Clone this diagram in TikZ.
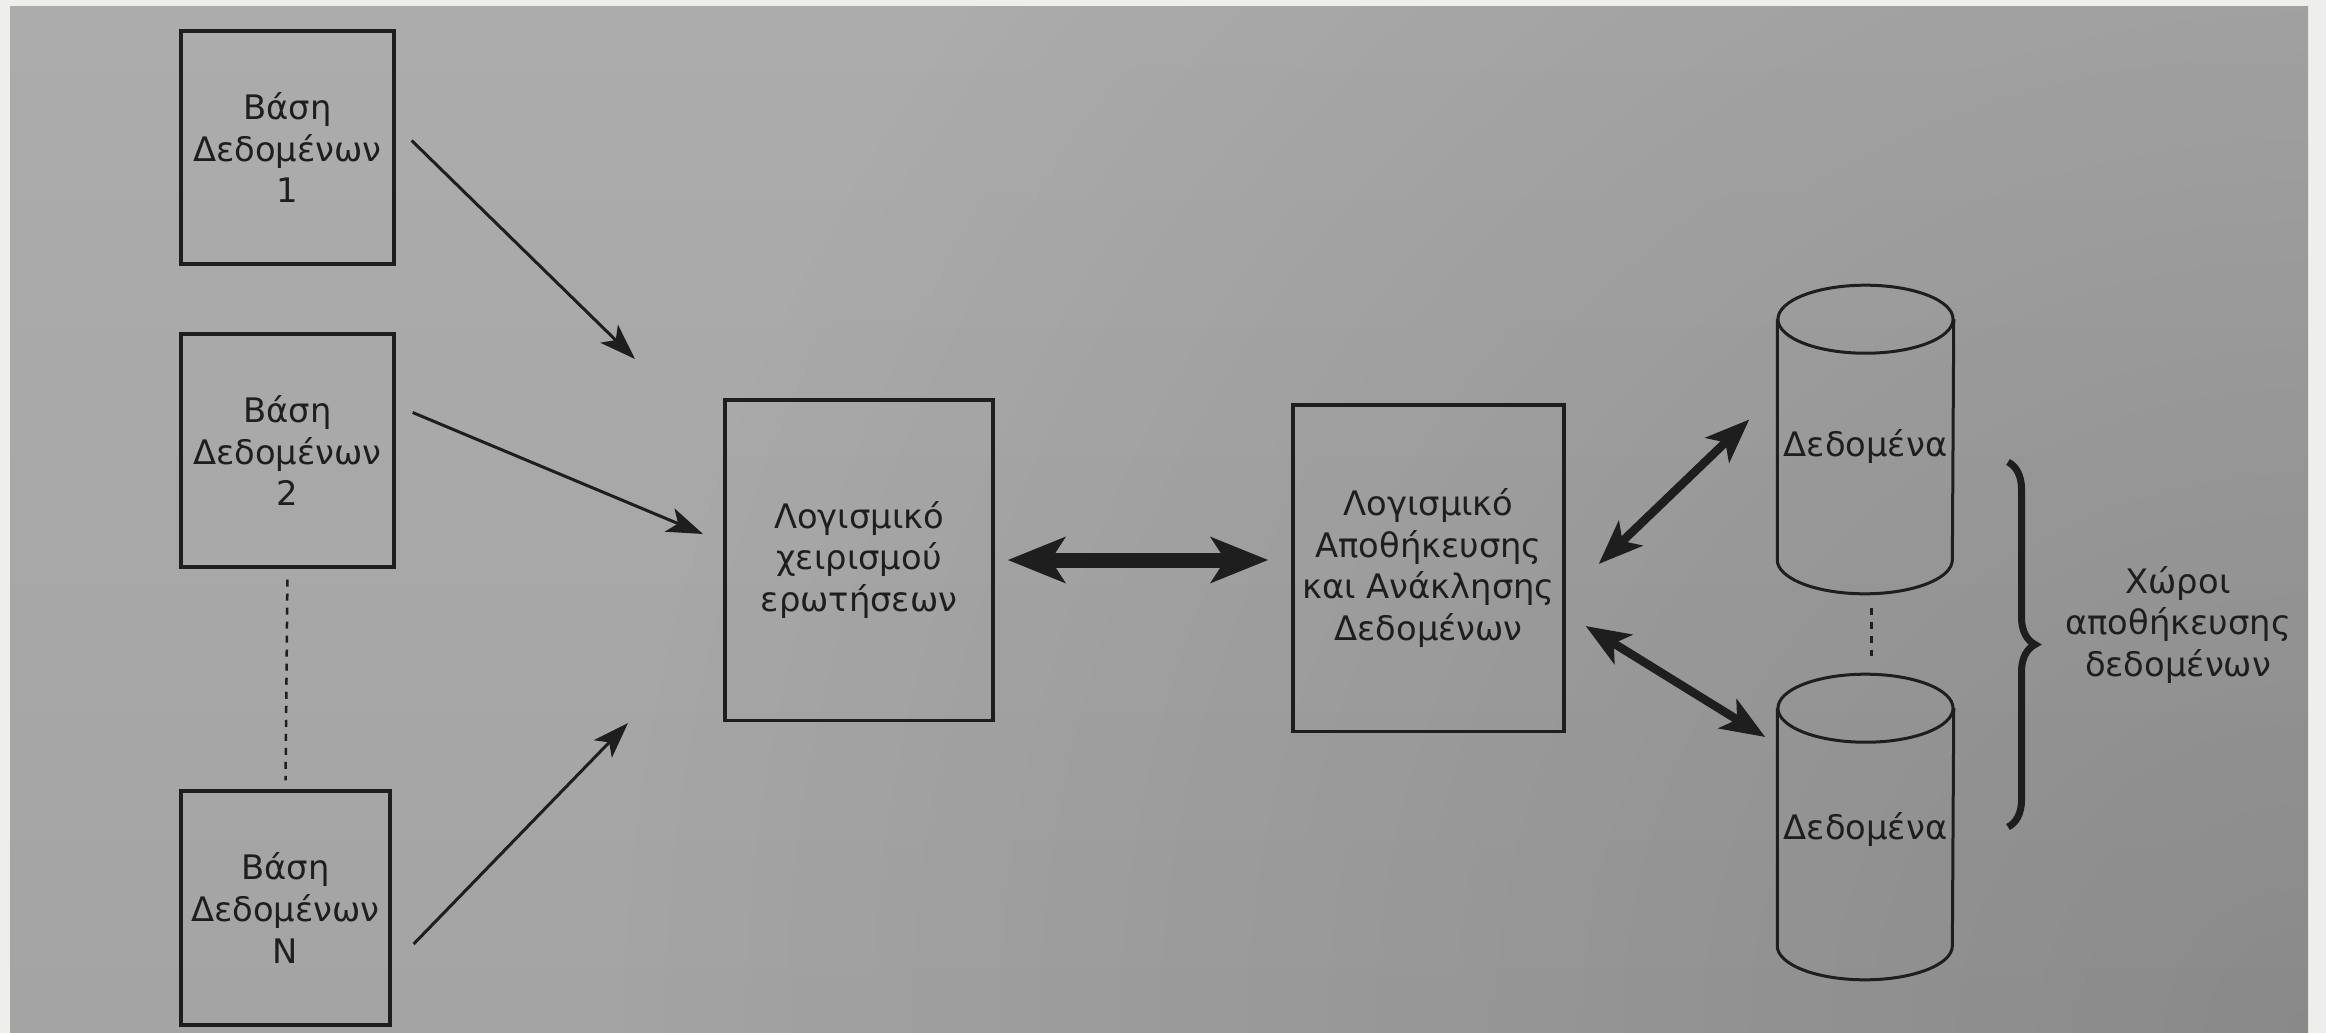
\documentclass[tikz,border=0pt]{standalone}
\usepackage{fontspec}
\setmainfont{DejaVu Sans}
\usetikzlibrary{arrows.meta,calc,decorations.pathreplacing,fadings}
\definecolor{bgpage}{HTML}{EEEEEC}
\definecolor{photoA}{HTML}{ACACAC}
\definecolor{photoB}{HTML}{A4A4A4}
\definecolor{ink}{HTML}{1E1E1E}
\tikzfading[name=radfade, inner color=transparent!0, outer color=transparent!100]
\begin{document}
\begin{tikzpicture}[x=0.01cm,y=-0.01cm,
  lbl/.style={inner sep=0pt, align=center, text=ink, font=\fontsize{9.6}{11.9}\selectfont},
  box/.style={lbl, draw=ink, line width=0.032cm},
  thinarr/.style={draw=ink, line width=0.03cm, -{Stealth[length=0.36cm,width=0.25cm,inset=0.09cm]}},
  medarr/.style={draw=ink, line width=0.085cm, {Stealth[length=0.44cm,width=0.34cm,inset=0.11cm]}-{Stealth[length=0.44cm,width=0.34cm,inset=0.11cm]}},
  bigarr/.style={draw=ink, line width=0.15cm, {Stealth[length=0.57cm,width=0.45cm,inset=0.14cm]}-{Stealth[length=0.57cm,width=0.45cm,inset=0.14cm]}},
  dotline/.style={draw=ink, line width=0.025cm, dash pattern=on 0.07cm off 0.07cm},
  cylline/.style={draw=ink, line width=0.03cm}]
\useasboundingbox (0,0) rectangle (2326,1033);
\fill[bgpage] (0,0) rectangle (2326,1033);
\begin{scope}
  \clip (10,6) rectangle (2308,1033);
  \shade[top color=photoA, bottom color=photoB] (10,6) rectangle (2308,1033);
  \fill[black, opacity=0.16, path fading=radfade] (2308,1033) circle (17cm);
\end{scope}

% database boxes
\node[box, minimum width=2.13cm, minimum height=2.33cm] (db1) at (287.5,147.5) {Βάση\\Δεδομένων\\1};
\node[box, minimum width=2.13cm, minimum height=2.33cm] (db2) at (287.5,450.5) {Βάση\\Δεδομένων\\2};
\node[box, minimum width=2.09cm, minimum height=2.34cm] (dbN) at (285.5,908) {Βάση\\Δεδομένων\\N};

% software boxes
\node[box, minimum width=2.68cm, minimum height=3.2cm] (Q) at (859,560) {Λογισμικό\\χειρισμού\\ερωτήσεων};
\node[box, minimum width=2.71cm, minimum height=3.26cm] (S) at (1428.5,568) {Λογισμικό\\Αποθήκευσης\\και Ανάκλησης\\Δεδομένων};

% cylinders
\node[lbl, minimum width=1.75cm, minimum height=3.07cm] (c1) at (1865.5,439.5) {};
\node[lbl, minimum width=1.75cm, minimum height=3.04cm] (c2) at (1865.5,827) {};
\foreach \c in {c1,c2}{
  \draw[cylline] ($(\c.north west)+(0,34)$) -- ($(\c.south west)+(0,-34)$)
     arc[start angle=180,end angle=360,x radius=0.875cm,y radius=0.34cm]
     -- ($(\c.north east)+(0,34)$);
  \draw[cylline] ($(\c.north)+(0,34)$) ellipse [x radius=0.875cm, y radius=0.34cm];
}
\node[lbl] (t1) at ($(c1.center)+(0,7)$) {Δεδομένα};
\node[lbl] (t2) at ($(c2.center)+(0,3)$) {Δεδομένα};

% label and brace
\node[lbl] (lab) at (2178,625) {Χώροι\\αποθήκευσης\\δεδομένων};
\coordinate (bt) at (2008,462);
\coordinate (bb) at (2008,827);
\draw[draw=ink, line width=0.07cm, decorate, decoration={brace, amplitude=0.27cm}] (bt) -- (bb);

% free ends of the input arrows
\coordinate (e1) at (635,359);
\coordinate (e2) at (703,534);
\coordinate (e3) at (628,723);
\draw[thinarr] ($(db1.east)+(16,-7)$) -- (e1);
\draw[thinarr] ($(db2.east)+(17,-38)$) -- (e2);
\draw[thinarr] ($(dbN.east)+(22,36)$) -- (e3);

% dotted continuations
\draw[dotline, shorten <=0.11cm, shorten >=0.09cm] (db2.south) -- (dbN.north);
\draw[dotline, shorten <=0.14cm, shorten >=0.18cm] ($(c1.south)+(6,0)$) -- ($(c2.north)+(6,0)$);

% double arrows
\draw[bigarr, shorten <=0.13cm, shorten >=0.23cm] (Q.east) -- (Q.east -| S.west);
\draw[medarr] ($(S.east)+(33,-4)$) -- ($(c1.west)+(-28,-20)$);
\draw[medarr] ($(S.east)+(20,58)$) -- ($(c2.west)+(-12,-90)$);
\end{tikzpicture}
\end{document}
